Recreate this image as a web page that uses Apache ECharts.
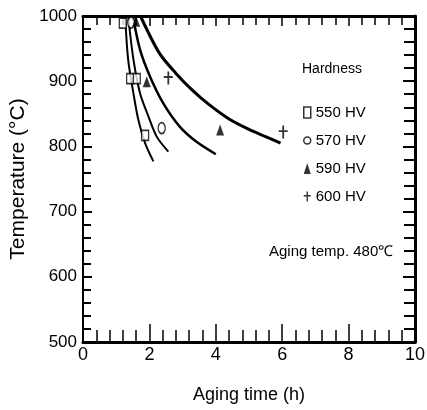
<!DOCTYPE html>
<html>
<head>
    <meta charset="UTF-8">
    <title>aging</title>
    <script src="https://cdn.jsdelivr.net/npm/echarts@6/dist/echarts.min.js"></script>
    <style>
        *{margin:0;padding:0}
        html,body{width:100%;height:100%;background:#fff}
        #main{width:427px;height:410px}
    </style>
</head>
<body>
<div id="main"></div>
<script type="text/javascript">
    // fitted curves, [aging time (h), temperature (°C)]
    var curve550 = [[1.27, 1000], [1.36, 933], [1.52, 881], [1.67, 840], [1.87, 805], [2.12, 777]];
    var curve570 = [[1.36, 1000], [1.52, 933], [1.72, 881], [1.97, 846], [2.22, 815], [2.57, 792]];
    var curve590 = [[1.5, 1000], [1.72, 948], [2.02, 907], [2.42, 866], [2.92, 830], [3.42, 807], [4.0, 788]];
    var curve600 = [[1.73, 1000], [2.3, 943], [2.8, 912], [3.3, 886], [3.8, 864], [4.4, 842], [5.0, 826], [5.5, 815], [5.95, 805]];

    // measured points
    var pts550 = [[1.2, 989], [1.42, 904], [1.62, 904], [1.87, 817]];
    var pts570 = [[1.45, 990], [2.37, 828]];
    var pts590 = [[1.6, 992], [1.92, 899], [4.13, 825]];
    var pts600 = [[2.57, 905], [6.03, 822]];

    var hardness = ['550 HV', '570 HV', '590 HV', '600 HV'];

    var textFont = '"Liberation Sans", Arial, sans-serif';
    var plusPath = 'path://M4,0 L6,0 L6,5 L10,5 L10,7 L6,7 L6,14 L4,14 L4,7 L0,7 L0,5 L4,5 Z';

    var myChart = echarts.init(document.getElementById('main'));

    function curve(data, w) {
        return {
            type: 'line', data: data, smooth: 0.3, showSymbol: false, silent: true,
            lineStyle: {color: '#000', width: w}, z: 3
        };
    }
    function pts(name, data, symbol, size, filled) {
        return {
            name: name, type: 'scatter', data: data, symbol: symbol, symbolSize: size, z: 4,
            itemStyle: filled ? {color: '#000'} : {color: '#fff', borderColor: '#000', borderWidth: 1.5}
        };
    }
    function plain(v) { return String(v); }

    var option = {
        animation: false,
        grid: {left: 83, right: 12, top: 16, bottom: 68, outerBoundsMode: 'none'},
        xAxis: [{
            type: 'value', min: 0, max: 10, interval: 2,
            name: 'Aging time (h)', nameLocation: 'middle', nameGap: 44,
            nameTextStyle: {fontFamily: textFont, fontSize: 18, color: '#000'},
            axisLine: {onZero: false, lineStyle: {color: '#000', width: 3}},
            axisTick: {inside: true, length: 18, lineStyle: {color: '#000', width: 1.5}},
            minorTick: {show: true, splitNumber: 5, length: 12, lineStyle: {color: '#000', width: 1.5}},
            axisLabel: {fontFamily: textFont, fontSize: 18, color: '#000', margin: 4, formatter: plain},
            splitLine: {show: false}
        }, {
            type: 'value', min: 0, max: 10, interval: 2, position: 'top',
            axisLine: {onZero: false, lineStyle: {color: '#000', width: 3}},
            axisTick: {inside: true, length: 10, lineStyle: {color: '#000', width: 1.5}},
            minorTick: {show: true, splitNumber: 5, length: 9, lineStyle: {color: '#000', width: 1.5}},
            axisLabel: {show: false},
            splitLine: {show: false}
        }],
        yAxis: [{
            type: 'value', min: 500, max: 1000, interval: 100,
            name: 'Temperature (°C)', nameLocation: 'middle', nameGap: 48,
            nameTextStyle: {fontFamily: textFont, fontSize: 21, color: '#000'},
            axisLine: {onZero: false, lineStyle: {color: '#000', width: 2}},
            axisTick: {inside: true, length: 9, lineStyle: {color: '#000', width: 2}},
            minorTick: {show: true, splitNumber: 5, length: 8, lineStyle: {color: '#000', width: 2}},
            axisLabel: {fontFamily: textFont, fontSize: 17, color: '#000', margin: 6, formatter: plain},
            splitLine: {show: false}
        }, {
            type: 'value', min: 500, max: 1000, interval: 100, position: 'right',
            axisLine: {onZero: false, lineStyle: {color: '#000', width: 3}},
            axisTick: {inside: true, length: 12, lineStyle: {color: '#000', width: 2}},
            minorTick: {show: true, splitNumber: 5, length: 11, lineStyle: {color: '#000', width: 2}},
            axisLabel: {show: false},
            splitLine: {show: false}
        }],
        legend: {
            orient: 'vertical', left: 298, top: 100, itemGap: 13,
            itemWidth: 7, itemHeight: 11,
            textStyle: {fontFamily: textFont, fontSize: 15, color: '#000', lineHeight: 15},
            data: [
                {name: hardness[0], icon: 'rect', itemStyle: {color: '#fff', borderColor: '#000', borderWidth: 1.5}},
                {name: hardness[1], icon: 'circle', itemStyle: {color: '#fff', borderColor: '#000', borderWidth: 1.5}},
                {name: hardness[2], icon: 'triangle', itemStyle: {color: '#000'}},
                {name: hardness[3], icon: plusPath, itemStyle: {color: '#000'}}
            ]
        },
        graphic: [
            {type: 'text', left: 302, top: 62,
             style: {text: 'Hardness', fontFamily: textFont, fontSize: 14, fill: '#000'}},
            {type: 'text', left: 269, top: 244,
             style: {text: 'Aging temp. 480℃', fontFamily: textFont, fontSize: 15, fill: '#000'}}
        ],
        series: [
            curve(curve550, 2),
            curve(curve570, 2),
            curve(curve590, 2.5),
            curve(curve600, 3),
            pts(hardness[0], pts550, 'rect', [7, 10], false),
            pts(hardness[1], pts570, 'circle', [7, 11], false),
            pts(hardness[2], pts590, 'triangle', [8, 11], true),
            pts(hardness[3], pts600, plusPath, [9, 13], true)
        ]
    };

    myChart.setOption(option);
</script>
</body>
</html>
